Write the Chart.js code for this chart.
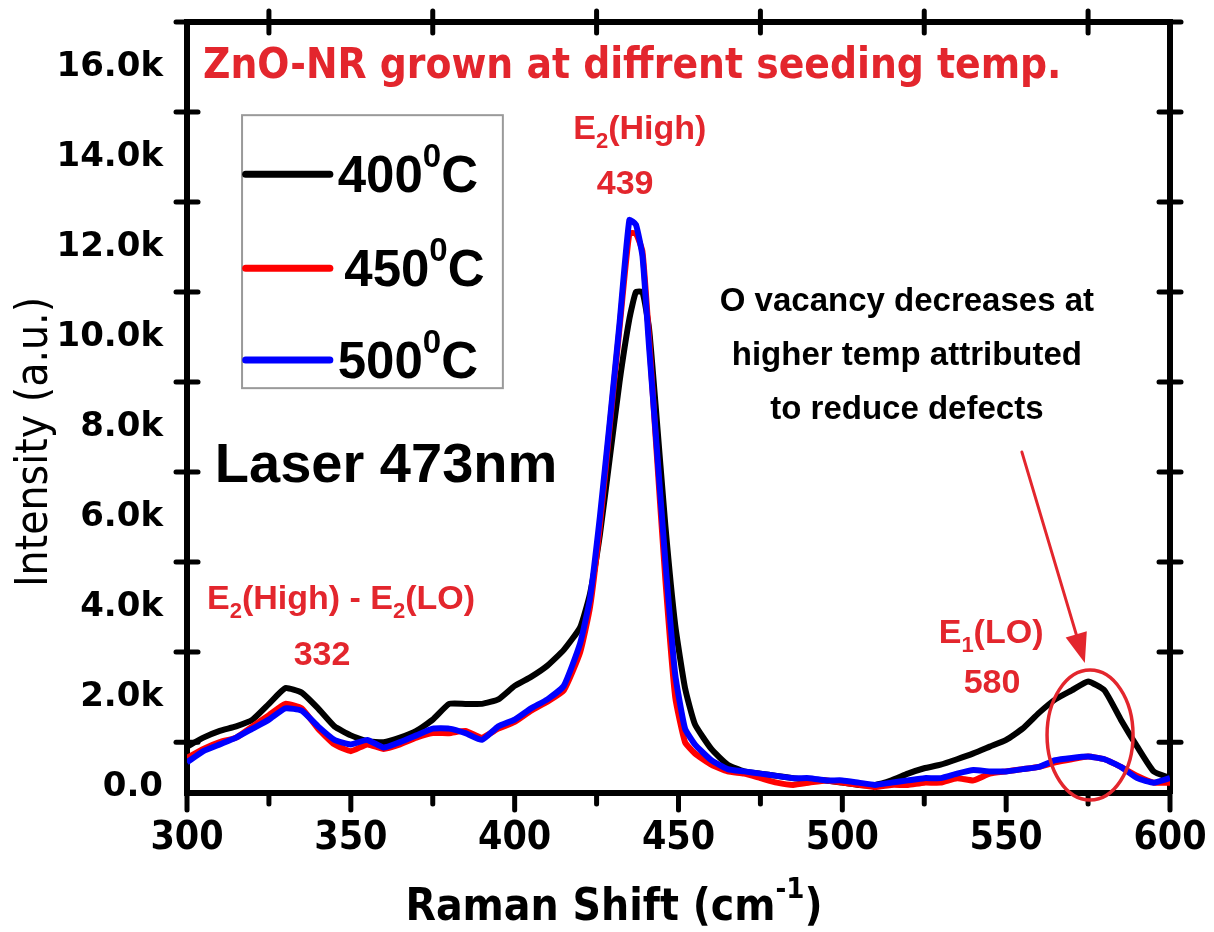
<!DOCTYPE html>
<html>
<head>
<meta charset="utf-8">
<script src="https://cdn.jsdelivr.net/npm/chart.js@4.4.0/dist/chart.umd.min.js"></script>
<style>
  html, body { margin: 0; padding: 0; background: #fff; }
</style>
</head>
<body>
<canvas id="ramanChart" width="1214" height="932"></canvas>
<script>
// Raman spectra of ZnO nanorods grown at three seeding temperatures

const shift = [300, 305, 310, 315, 320, 325, 330, 335, 340, 345, 350, 355, 360, 365, 370, 375, 380, 385, 390, 395,
  400, 405, 410, 415, 420, 423, 426, 429, 432, 435, 437, 439, 441, 443, 446, 449, 452, 455, 460, 465,
  470, 475, 480, 485, 490, 495, 500, 505, 510, 515, 520, 525, 530, 535, 540, 545, 550, 555, 560, 565,
  570, 575, 580, 585, 590, 595, 600];

const int400 = [900, 1100, 1250, 1350, 1500, 1850, 2200, 2100, 1750, 1350, 1150, 1020, 1000, 1100, 1250, 1500, 1850, 1850, 1850, 1950,
  2250, 2450, 2700, 3050, 3550, 4300, 5600, 7300, 9000, 10400, 11000, 11000, 10200, 8500, 5800, 3600, 2200, 1400, 850, 500,
  350, 300, 250, 200, 150, 150, 100, 50, 50, 150, 300, 420, 500, 620, 750, 900, 1050, 1300, 1650, 1950,
  2150, 2350, 2150, 1500, 900, 350, 200];

const int450 = [650, 850, 1000, 1100, 1350, 1600, 1850, 1750, 1300, 950, 800, 950, 850, 950, 1100, 1200, 1200, 1250, 1100, 1300,
  1450, 1700, 1900, 2150, 3000, 4000, 5800, 8000, 10200, 12300, 12300, 11900, 10000, 7800, 4600, 2000, 1000, 750, 500, 350,
  300, 200, 100, 50, 100, 150, 100, 50, 0, 50, 50, 100, 100, 200, 150, 300, 350, 400, 450, 550,
  620, 680, 620, 450, 250, 100, 100];

const int500 = [550, 800, 950, 1100, 1300, 1500, 1750, 1700, 1350, 1050, 950, 1050, 880, 1000, 1150, 1300, 1300, 1200, 1050, 1350,
  1500, 1750, 1950, 2250, 3200, 4200, 6000, 8100, 10300, 12600, 12500, 11800, 9800, 7900, 5000, 2500, 1300, 950, 600, 400,
  350, 300, 250, 200, 200, 150, 150, 100, 50, 100, 150, 200, 200, 300, 380, 350, 350, 400, 450, 600,
  650, 680, 620, 450, 200, 100, 200];

const seriesNames = ['400', '450', '500'];
const seriesColors = ['#000000', '#ff0000', '#0000ff'];
const xTickLabels = [300, 350, 400, 450, 500, 550, 600];
const yTickLabels = [0, 2000, 4000, 6000, 8000, 10000, 12000, 14000, 16000];

const NARROW = "'Liberation Sans Narrow', 'DejaVu Sans Condensed', sans-serif";
const ARIAL = "'Liberation Sans', Arial, sans-serif";
const WIDE = "'DejaVu Sans', Verdana, sans-serif";
const NOTE_RED = '#e3262d';

// text with subscripts / superscripts: parts = [[text, 'sub'|'sup'|''], ...]
function drawRich(ctx, parts, x, y, size, family, color, align) {
  const fontFor = k => `bold ${k ? Math.round(size * 0.65) : size}px ${family}`;
  let w = 0;
  parts.forEach(([t, k]) => { ctx.font = fontFor(k); w += ctx.measureText(t).width; });
  let cx = align === 'center' ? x - w / 2 : x;
  ctx.fillStyle = color;
  ctx.textAlign = 'left';
  ctx.textBaseline = 'alphabetic';
  parts.forEach(([t, k]) => {
    ctx.font = fontFor(k);
    const dy = k === 'sub' ? size * 0.25 : k === 'sup' ? -size * 0.5 : 0;
    ctx.fillText(t, cx, y + dy);
    cx += ctx.measureText(t).width;
  });
}

// frame tick marks: crossing ticks on left/right/top, outward ticks below
const frameTicks = {
  id: 'frameTicks',
  afterDraw(chart) {
    const { ctx, chartArea: a, scales: { x, y } } = chart;
    ctx.save();
    ctx.strokeStyle = '#000';
    ctx.lineWidth = 5;
    ctx.lineCap = 'round';
    const seg = (x1, y1, x2, y2) => { ctx.beginPath(); ctx.moveTo(x1, y1); ctx.lineTo(x2, y2); ctx.stroke(); };
    for (let v = 1000; v <= 17000; v += 2000) {
      const py = y.getPixelForValue(v);
      seg(a.left - 11, py, a.left + 11, py);
      seg(a.right - 11, py, a.right + 11, py);
    }
    for (let v = 325; v < 600; v += 50) {
      const px = x.getPixelForValue(v);
      seg(px, a.top - 11, px, a.top + 11);
    }
    for (let v = 300; v <= 600; v += 25) {
      const px = x.getPixelForValue(v);
      seg(px, a.bottom, px, a.bottom + (v % 50 === 0 ? 17 : 11));
    }
    ctx.restore();
  }
};

// titles, legend box and the red/black notes
const notes = {
  id: 'notes',
  afterDraw(chart) {
    const { ctx, scales: { x, y } } = chart;
    const X = v => x.getPixelForValue(v);
    const Y = v => y.getPixelForValue(v);
    ctx.save();

    // axis titles
    drawRich(ctx, [['Raman Shift (cm', ''], ['-1', 'sup'], [')', '']], 614, 920, 44, NARROW, '#000', 'center');
    ctx.save();
    ctx.translate(47, 442);
    ctx.rotate(-Math.PI / 2);
    ctx.font = `44px ${NARROW}`;
    ctx.fillStyle = '#000';
    ctx.textAlign = 'center';
    ctx.textBaseline = 'alphabetic';
    ctx.fillText('Intensity (a.u.)', 0, 0);
    ctx.restore();

    // heading
    ctx.font = `bold 42px ${NARROW}`;
    ctx.fillStyle = NOTE_RED;
    ctx.textAlign = 'left';
    ctx.fillText('ZnO-NR grown at diffrent seeding temp.', X(304.9), Y(15754));

    // legend box
    const bx = X(316.8), by = Y(14930);
    ctx.fillStyle = '#fff';
    ctx.fillRect(bx, by, X(396.4) - bx, Y(8865) - by);
    ctx.strokeStyle = '#9a9a9a';
    ctx.lineWidth = 2;
    ctx.strokeRect(bx, by, X(396.4) - bx, Y(8865) - by);
    const rowY = [13620, 11530, 9490];
    const textX = [346.0, 348.0, 346.0];
    seriesNames.forEach((name, i) => {
      const ry = Y(rowY[i]);
      ctx.strokeStyle = seriesColors[i];
      ctx.lineWidth = 7;
      ctx.lineCap = 'round';
      ctx.beginPath();
      ctx.moveTo(X(317.9), ry);
      ctx.lineTo(X(343.6), ry);
      ctx.stroke();
      drawRich(ctx, [[name, ''], ['0', 'sup'], ['C', '']], X(textX[i]), ry + 18, 51, ARIAL, '#000', 'left');
    });

    // peak labels
    drawRich(ctx, [['E', ''], ['2', 'sub'], ['(High)', '']], X(438.2), Y(14399), 34, ARIAL, NOTE_RED, 'center');
    drawRich(ctx, [['439', '']], X(433.7), Y(13177), 34, ARIAL, NOTE_RED, 'center');
    drawRich(ctx, [['E', ''], ['2', 'sub'], ['(High) - E', ''], ['2', 'sub'], ['(LO)', '']], X(347.0), Y(3957), 34, ARIAL, NOTE_RED, 'center');
    drawRich(ctx, [['332', '']], X(341.2), Y(2713), 34, ARIAL, NOTE_RED, 'center');
    drawRich(ctx, [['E', ''], ['1', 'sub'], ['(LO)', '']], X(545.4), Y(3202), 34, ARIAL, NOTE_RED, 'center');
    drawRich(ctx, [['580', '']], X(545.7), Y(2091), 34, ARIAL, NOTE_RED, 'center');

    // black notes
    drawRich(ctx, [['O vacancy decreases at', '']], X(519.7), Y(10578), 33, ARIAL, '#000', 'center');
    drawRich(ctx, [['higher temp attributed', '']], X(519.7), Y(9378), 33, ARIAL, '#000', 'center');
    drawRich(ctx, [['to reduce defects', '']], X(519.7), Y(8178), 33, ARIAL, '#000', 'center');
    drawRich(ctx, [['Laser 473nm', '']], X(308.5), Y(6778), 56, ARIAL, '#000', 'left');

    // arrow pointing to the E1(LO) band
    const x1 = X(554.8), y1 = Y(7445), x2 = X(574.0), y2 = Y(2757);
    const ang = Math.atan2(y2 - y1, x2 - x1);
    ctx.strokeStyle = NOTE_RED;
    ctx.fillStyle = NOTE_RED;
    ctx.lineWidth = 3;
    ctx.beginPath();
    ctx.moveTo(x1, y1);
    ctx.lineTo(x2 - 20 * Math.cos(ang), y2 - 20 * Math.sin(ang));
    ctx.stroke();
    ctx.beginPath();
    ctx.moveTo(x2, y2);
    ctx.lineTo(x2 - 30 * Math.cos(ang) + 11 * Math.sin(ang), y2 - 30 * Math.sin(ang) - 11 * Math.cos(ang));
    ctx.lineTo(x2 - 30 * Math.cos(ang) - 11 * Math.sin(ang), y2 - 30 * Math.sin(ang) + 11 * Math.cos(ang));
    ctx.closePath();
    ctx.fill();

    // ellipse round the 580 band
    ctx.lineWidth = 3.5;
    ctx.beginPath();
    ctx.ellipse(X(575.6), Y(1157), 43, 65, 0, 0, Math.PI * 2);
    ctx.stroke();

    ctx.restore();
  }
};

// keep the plot box fixed: no extra room for overhanging tick labels
const noOverhang = s => { s.paddingLeft = 0; s.paddingRight = 0; s.paddingTop = 0; s.paddingBottom = 0; };

const series = [int400, int450, int500];

new Chart(document.getElementById('ramanChart'), {
  type: 'line',
  data: {
    datasets: series.map((vals, i) => ({
      label: seriesNames[i] + '⁰C',
      data: shift.map((s, j) => ({ x: s, y: vals[j] })),
      borderColor: seriesColors[i],
      borderWidth: 6,
      pointRadius: 0,
      tension: 0.15,
      order: 3 - i
    }))
  },
  options: {
    responsive: false,
    animation: false,
    devicePixelRatio: 1,
    layout: { padding: { left: 0, top: 22, right: 44, bottom: 0 } },
    plugins: { legend: { display: false }, tooltip: { enabled: false } },
    scales: {
      x: {
        type: 'linear',
        position: 'bottom',
        min: 300,
        max: 600,
        afterBuildTicks: s => { s.ticks = xTickLabels.map(v => ({ value: v })); },
        afterFit: s => { s.height = 139; noOverhang(s); },
        ticks: {
          font: { family: NARROW, size: 39, weight: 'bold' },
          color: '#000',
          padding: 22,
          maxRotation: 0,
          autoSkip: false
        },
        grid: { drawOnChartArea: false, drawTicks: false },
        border: { width: 6, color: '#000' }
      },
      x2: {
        type: 'linear',
        position: 'top',
        min: 300,
        max: 600,
        afterFit: s => { s.height = 0; noOverhang(s); },
        ticks: { display: false },
        grid: { drawOnChartArea: false, drawTicks: false },
        border: { width: 6, color: '#000' }
      },
      y: {
        min: -130,
        max: 17000,
        afterBuildTicks: s => { s.ticks = yTickLabels.map(v => ({ value: v })); },
        afterFit: s => { s.width = 187; noOverhang(s); },
        ticks: {
          font: { family: WIDE, size: 34, weight: 'bold' },
          color: '#000',
          padding: 24,
          callback: v => v === 0 ? '0.0' : (v / 1000).toFixed(1) + 'k'
        },
        grid: { drawOnChartArea: false, drawTicks: false },
        border: { width: 6, color: '#000' }
      },
      y2: {
        position: 'right',
        min: -130,
        max: 17000,
        afterFit: s => { s.width = 0; noOverhang(s); },
        ticks: { display: false },
        grid: { drawOnChartArea: false, drawTicks: false },
        border: { width: 6, color: '#000' }
      }
    }
  },
  plugins: [frameTicks, notes]
});
</script>
</body>
</html>
